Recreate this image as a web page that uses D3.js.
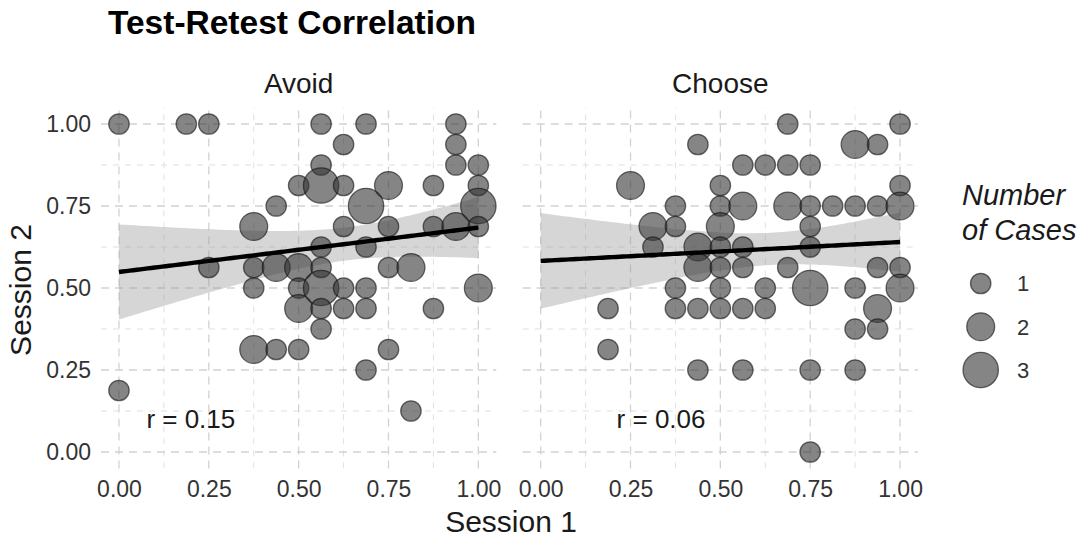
<!DOCTYPE html>
<html>
<head>
<meta charset="utf-8">
<script src="https://cdn.jsdelivr.net/npm/d3@7"></script>
<style>
  html, body { margin: 0; padding: 0; background: #fff; }
  svg { display: block; font-family: "Liberation Sans", Arial, Helvetica, sans-serif; }
</style>
</head>
<body>
<svg id="chart" width="1079" height="538"></svg>
<script>
// Session scores (Session 1 = x, Session 2 = y) and how many cases share each pair
const panels = ["Avoid", "Choose"];

const avoidSession1 = [0, 0.1875, 0.25, 0.5625, 0.6875, 0.9375, 0.625, 0.9375, 0.5625, 0.9375,
  1, 0.5, 0.5625, 0.625, 0.75, 0.875, 1, 0.4375, 0.6875, 1,
  0.375, 0.625, 0.75, 0.875, 0.9375, 1, 0.5625, 0.6875, 0.25, 0.375,
  0.4375, 0.5, 0.5625, 0.75, 0.8125, 0.375, 0.5, 0.5625, 0.625, 0.6875,
  1, 0.5, 0.5625, 0.625, 0.6875, 0.875, 0.5625, 0.375, 0.4375, 0.5,
  0.75, 0.6875, 0, 0.8125];
const avoidSession2 = [1, 1, 1, 1, 1, 1, 0.9375, 0.9375, 0.875, 0.875,
  0.875, 0.8125, 0.8125, 0.8125, 0.8125, 0.8125, 0.8125, 0.75, 0.75, 0.75,
  0.6875, 0.6875, 0.6875, 0.6875, 0.6875, 0.6875, 0.625, 0.625, 0.5625, 0.5625,
  0.5625, 0.5625, 0.5625, 0.5625, 0.5625, 0.5, 0.5, 0.5, 0.5, 0.5,
  0.5, 0.4375, 0.4375, 0.4375, 0.4375, 0.4375, 0.375, 0.3125, 0.3125, 0.3125,
  0.3125, 0.25, 0.1875, 0.125];
const avoidCases = [1, 1, 1, 1, 1, 1, 1, 1, 1, 1,
  1, 1, 3, 1, 2, 1, 1, 1, 3, 3,
  2, 1, 1, 1, 2, 1, 1, 1, 1, 1,
  2, 2, 1, 1, 2, 1, 1, 3, 1, 1,
  2, 2, 1, 1, 1, 1, 1, 2, 1, 1,
  1, 1, 1, 1];

const chooseSession1 = [0.6875, 1, 0.4375, 0.875, 0.9375, 0.5625, 0.625, 0.6875, 0.75, 0.25,
  0.5, 1, 0.375, 0.5, 0.5625, 0.6875, 0.75, 0.8125, 0.875, 0.9375,
  1, 0.3125, 0.375, 0.5, 0.75, 0.3125, 0.4375, 0.5, 0.5625, 0.75,
  0.4375, 0.5, 0.5625, 0.6875, 0.9375, 1, 0.375, 0.5, 0.625, 0.75,
  0.875, 1, 0.1875, 0.375, 0.4375, 0.5, 0.5625, 0.625, 0.9375, 0.875,
  0.9375, 0.1875, 0.4375, 0.5625, 0.75, 0.875, 0.75];
const chooseSession2 = [1, 1, 0.9375, 0.9375, 0.9375, 0.875, 0.875, 0.875, 0.875, 0.8125,
  0.8125, 0.8125, 0.75, 0.75, 0.75, 0.75, 0.75, 0.75, 0.75, 0.75,
  0.75, 0.6875, 0.6875, 0.6875, 0.6875, 0.625, 0.625, 0.625, 0.625, 0.625,
  0.5625, 0.5625, 0.5625, 0.5625, 0.5625, 0.5625, 0.5, 0.5, 0.5, 0.5,
  0.5, 0.5, 0.4375, 0.4375, 0.4375, 0.4375, 0.4375, 0.4375, 0.4375, 0.375,
  0.375, 0.3125, 0.25, 0.25, 0.25, 0.25, 0];
const chooseCases = [1, 1, 1, 2, 1, 1, 1, 1, 1, 2,
  1, 1, 1, 1, 2, 2, 1, 1, 1, 1,
  2, 2, 1, 2, 1, 1, 2, 1, 1, 1,
  2, 1, 1, 1, 1, 1, 1, 1, 1, 3,
  1, 2, 1, 1, 1, 1, 1, 1, 2, 1,
  1, 1, 1, 1, 1, 1, 1];

const correlations = ["0.15", "0.06"];
const tickValues = [0, 0.25, 0.5, 0.75, 1];
const tickLabels = ["0.00", "0.25", "0.50", "0.75", "1.00"];
const minorValues = [0.125, 0.375, 0.625, 0.875];
const legendCounts = [1, 2, 3];

const panelData = [
  { name: panels[0], x: avoidSession1, y: avoidSession2, n: avoidCases, r: correlations[0] },
  { name: panels[1], x: chooseSession1, y: chooseSession2, n: chooseCases, r: correlations[1] }
];

const svg = d3.select("#chart");
const panelLeft = [101, 522.7];
const panelW = 395.3;
const y = d3.scaleLinear().domain([-0.05, 1.05]).range([468.4, 107.6]);
const size = d3.scaleLinear().domain([1, 3]).range([10.8, 18.3]);

// ordinary least squares on the case-weighted points, with a 95% confidence band
function tQuantile(df) {
  const z = 1.959964;
  return z + (z ** 3 + z) / (4 * df) + (5 * z ** 5 + 16 * z ** 3 + 3 * z) / (96 * df * df);
}
function linearFit(xs, ys, ws) {
  const n = d3.sum(ws);
  const mx = d3.sum(xs, (v, i) => v * ws[i]) / n;
  const my = d3.sum(ys, (v, i) => v * ws[i]) / n;
  let sxx = 0, sxy = 0;
  xs.forEach((v, i) => { sxx += ws[i] * (v - mx) ** 2; sxy += ws[i] * (v - mx) * (ys[i] - my); });
  const b = sxy / sxx, a = my - b * mx;
  let sse = 0;
  xs.forEach((v, i) => { sse += ws[i] * (ys[i] - a - b * v) ** 2; });
  const s = Math.sqrt(sse / (n - 2));
  const t = tQuantile(n - 2);
  return xv => {
    const yh = a + b * xv;
    const se = s * Math.sqrt(1 / n + (xv - mx) ** 2 / sxx);
    return { x: xv, y: yh, lo: yh - t * se, hi: yh + t * se };
  };
}

panelData.forEach((p, pi) => {
  const x = d3.scaleLinear().domain([-0.05, 1.05]).range([panelLeft[pi], panelLeft[pi] + panelW]);
  const g = svg.append("g");

  // minor grid
  g.selectAll(".minor-v").data(minorValues).join("line")
    .attr("x1", d => x(d)).attr("x2", d => x(d))
    .attr("y1", y.range()[0]).attr("y2", y.range()[1])
    .attr("stroke", "#e0e0e0").attr("stroke-width", 1).attr("stroke-dasharray", "6,6");
  g.selectAll(".minor-h").data(minorValues).join("line")
    .attr("y1", d => y(d)).attr("y2", d => y(d))
    .attr("x1", x.range()[0]).attr("x2", x.range()[1])
    .attr("stroke", "#e0e0e0").attr("stroke-width", 1).attr("stroke-dasharray", "6,6");
  // major grid
  g.selectAll(".major-v").data(tickValues).join("line")
    .attr("x1", d => x(d)).attr("x2", d => x(d))
    .attr("y1", y.range()[0]).attr("y2", y.range()[1])
    .attr("stroke", "#d2d2d2").attr("stroke-width", 1.3).attr("stroke-dasharray", "8,6");
  g.selectAll(".major-h").data(tickValues).join("line")
    .attr("y1", d => y(d)).attr("y2", d => y(d))
    .attr("x1", x.range()[0]).attr("x2", x.range()[1])
    .attr("stroke", "#d2d2d2").attr("stroke-width", 1.3).attr("stroke-dasharray", "8,6");

  // regression band
  const f = linearFit(p.x, p.y, p.n);
  const grid = d3.range(0, 101).map(i => f(i / 100));
  g.append("path").datum(grid)
    .attr("d", d3.area().x(d => x(d.x)).y0(d => y(d.lo)).y1(d => y(d.hi)))
    .attr("fill", "#999").attr("fill-opacity", 0.4);

  // points
  const pts = p.x.map((v, i) => ({ s1: v, s2: p.y[i], n: p.n[i] }));
  g.selectAll("circle.pt").data(pts).join("circle")
    .attr("class", "pt")
    .attr("cx", d => x(d.s1)).attr("cy", d => y(d.s2)).attr("r", d => size(d.n) - 0.6)
    .attr("fill", "#333").attr("fill-opacity", 0.6)
    .attr("stroke", "#111").attr("stroke-opacity", 0.6).attr("stroke-width", 1.3);

  // fitted line
  g.append("path").datum(grid)
    .attr("d", d3.line().x(d => x(d.x)).y(d => y(d.y)))
    .attr("fill", "none").attr("stroke", "#000").attr("stroke-width", 4.4);

  // correlation label
  g.append("text")
    .attr("x", pi === 0 ? x(0.2) : x(0.335)).attr("y", y(0.1) + 9)
    .attr("text-anchor", "middle").attr("font-size", 26).attr("fill", "#1a1a1a")
    .text("r = " + p.r);

  // facet strip label
  g.append("text")
    .attr("x", panelLeft[pi] + panelW / 2).attr("y", 93)
    .attr("text-anchor", "middle").attr("font-size", 28).attr("fill", "#1a1a1a")
    .text(p.name);

  // x axis tick labels
  const xAxis = d3.axisBottom(x).tickValues(tickValues)
    .tickFormat((d, i) => tickLabels[i]).tickSize(0).tickPadding(0);
  const ax = g.append("g").attr("transform", "translate(0,480)").call(xAxis);
  ax.select(".domain").remove();
  ax.selectAll("text").attr("font-size", 23).attr("fill", "#333")
    .attr("font-family", "Liberation Sans, Arial, sans-serif").attr("dy", "0.72em");

  if (pi === 0) {
    const yAxis = d3.axisLeft(y).tickValues(tickValues)
      .tickFormat((d, i) => tickLabels[i]).tickSize(0).tickPadding(0);
    const ay = g.append("g").attr("transform", "translate(91,0)").call(yAxis);
    ay.select(".domain").remove();
    ay.selectAll("text").attr("font-size", 23).attr("fill", "#333")
      .attr("font-family", "Liberation Sans, Arial, sans-serif");
  }
});

// title
svg.append("text").attr("x", 108).attr("y", 34)
  .attr("font-size", 33.5).attr("font-weight", "bold").attr("fill", "#000")
  .text("Test-Retest Correlation");

// axis titles
svg.append("text").attr("x", 511).attr("y", 532)
  .attr("text-anchor", "middle").attr("font-size", 30).attr("fill", "#1a1a1a")
  .text("Session 1");
svg.append("text").attr("transform", "translate(31,290) rotate(-90)")
  .attr("text-anchor", "middle").attr("font-size", 30).attr("fill", "#1a1a1a")
  .text("Session 2");

// size legend
const legend = svg.append("g");
legend.append("text").attr("x", 962).attr("y", 205)
  .attr("font-size", 29).attr("font-style", "italic").attr("fill", "#1a1a1a").text("Number");
legend.append("text").attr("x", 962).attr("y", 240)
  .attr("font-size", 29).attr("font-style", "italic").attr("fill", "#1a1a1a").text("of Cases");
const keyY = d3.scalePoint().domain(legendCounts).range([283.5, 370]);
legend.selectAll("circle").data(legendCounts).join("circle")
  .attr("cx", 980.7).attr("cy", d => keyY(d)).attr("r", d => size(d) - 0.6)
  .attr("fill", "#333").attr("fill-opacity", 0.6)
  .attr("stroke", "#111").attr("stroke-opacity", 0.6).attr("stroke-width", 1.3);
legend.selectAll("text.lab").data(legendCounts).join("text")
  .attr("class", "lab")
  .attr("x", 1017).attr("y", d => keyY(d)).attr("dy", "0.36em")
  .attr("font-size", 22).attr("fill", "#333")
  .text(d => d);
</script>
</body>
</html>
